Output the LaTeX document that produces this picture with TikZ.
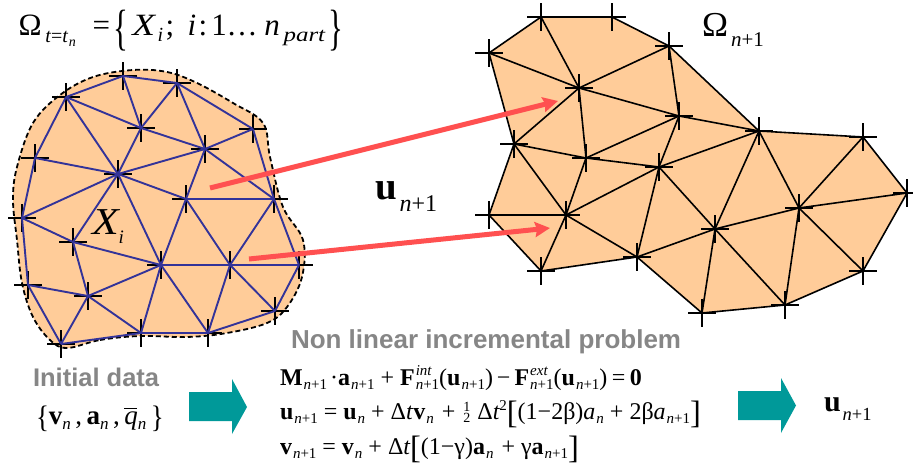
\documentclass[tikz,border=0pt]{standalone}
\usepackage{fontspec}
\usepackage{graphicx}
\setmainfont{Liberation Serif}
\newfontfamily\hvf{Liberation Sans}
\usetikzlibrary{arrows.meta,shapes.misc}
\newcommand{\fz}[1]{\fontsize{#1}{#1}\selectfont}
% subscript: drop, size, text
\newcommand{\sbx}[3]{\raisebox{-#1pt}{\fz{#2}#3}}
\newcommand{\nplus}{{\itshape n}+1}
\newcommand{\bg}[2]{\raisebox{#2pt}{\scalebox{1}[#1]{\{}}}
\newcommand{\bd}[2]{\raisebox{#2pt}{\scalebox{1}[#1]{\}}}}
\newcommand{\eqn}{\hspace{1pt}\sbx{4.5}{15}{\nplus}}
\newcommand{\en}{\hspace{1pt}\sbx{4.5}{15}{\itshape n}}
\newcommand{\lbk}{\raisebox{-4pt}{\scalebox{1.35}[1.35]{[}}}
\newcommand{\rbk}{\raisebox{-4pt}{\scalebox{1.35}[1.35]{]}}}
\newcommand{\atx}[2]{\rlap{\hspace{#1pt}#2}}
\tikzset{
  meshpt/.style={cross out,draw=black,line width=2.1pt,minimum size=17.5pt,inner sep=0pt,rotate=45},
  blueedge/.style={draw=meshblue,line width=1.9pt,line join=round},
  blackedge/.style={draw=black,line width=1.6pt,line join=round},
  redarrow/.style={draw=arrowred,line width=5pt,-{Stealth[length=15pt,width=15pt,inset=2pt]}},
  teal/.style={fill=blocktl,draw=none},
  txt/.style={anchor=base west,inner sep=0pt,outer sep=0pt},
  grey/.style={txt,text=labelgrey,font=\hvf\bfseries}
}
\definecolor{meshfill}{HTML}{FFCC99}
\definecolor{meshblue}{HTML}{333399}
\definecolor{arrowred}{HTML}{FF5050}
\definecolor{blocktl}{HTML}{009999}
\definecolor{labelgrey}{HTML}{868686}
\begin{document}
\begin{tikzpicture}[x=1pt,y=-1pt]
\useasboundingbox (0,0) rectangle (913,468);
% ---- left domain
\draw[fill=meshfill,line width=1.8pt,dash pattern=on 5pt off 3pt]
  plot[smooth cycle,tension=0.6] coordinates {
  (67,348)(100,340)(140,336)(187,337)(227,333)(267,323)(287,307)(302,277)(303,240)
  (283,207)(270,157)(263,123)(233,103)(197,83)(167,72)(133,70)(93,77)(60,95)(33,123)
  (17,167)(13,200)(17,240)(22,283)(33,317)(50,340)};
\foreach \n/\x/\y in {A/123/76,B/177/83,C/66/97,D/141/128,E/253/129,F/205/149,G/35/158,H/118/174,
  I/186/199,J/274/199,K/22/218,L/73/242,M/161/265,N/230/265,O/299/265,P/28/285,Q/88/296,R/275/311,
  S/141/333,T/208/333,U/61/344}
  {\node[meshpt] (\n) at (\x,\y) {};}
\foreach \a/\b in {A/B,A/C,A/D,B/D,B/E,B/F,C/D,C/G,C/H,D/F,D/H,E/F,E/J,F/H,F/I,F/J,G/H,G/K,H/I,H/K,H/L,H/M,
  I/J,I/M,I/N,J/N,J/O,K/L,K/P,L/M,L/Q,M/N,M/Q,M/S,M/T,N/O,N/T,N/R,O/R,P/Q,P/U,Q/U,Q/S,S/T,S/U,T/R}
  {\draw[blueedge] (\a.center) -- (\b.center);}
% ---- right domain
\foreach \n/\x/\y in {a/541/17,b/612/17,c/489/53,d/669/46,e/579/88,f/679/116,g/759/131,h/863/137,
  i/514/144,j/586/158,k/659/167,l/907/193,m/799/208,n/489/215,o/566/215,p/715/229,q/637/257,
  r/541/271,s/863/271,t/785/305,u/702/313}
  {\coordinate (\n) at (\x,\y);}
\fill[meshfill] (a)--(b)--(d)--(g)--(h)--(l)--(s)--(t)--(u)--(q)--(r)--(n)--(i)--(c)--cycle;
\foreach \a/\b in {a/b,a/c,a/e,b/d,c/e,c/i,d/e,d/f,d/g,e/f,e/i,e/j,f/g,f/j,f/k,g/h,g/k,g/m,g/p,h/m,h/l,
  i/j,i/n,i/o,j/k,j/o,k/o,k/p,k/q,l/m,l/s,m/p,m/s,m/t,n/o,n/r,o/q,o/r,p/q,p/t,p/u,q/r,q/u,t/u,t/s}
  {\draw[blackedge] (\a) -- (\b);}
\foreach \n in {a,b,c,d,e,f,g,h,i,j,k,l,m,n,o,p,q,r,s,t,u}
  {\node[meshpt] (\n c) at (\n) {};}
% ---- red arrows
\coordinate (r1s) at (210,188); \coordinate (r1e) at (558,101);
\coordinate (r2s) at (249,259); \coordinate (r2e) at (550,228);
\draw[redarrow] (r1s) -- (r1e);
\draw[redarrow] (r2s) -- (r2e);
% ---- block arrows
\fill[teal] (189,392)--(232,392)--(232,379)--(247,407)--(232,434)--(232,421)--(189,421)--cycle;
\fill[teal] (738,391)--(781,391)--(781,378)--(796,405.5)--(781,433)--(781,420)--(738,420)--cycle;
% ---- labels
\node[txt,font=\fz{31}] (om1) at (18,36) {\atx{0}{Ω}\atx{27}{\sbx{7}{20}{{\itshape t}={\itshape t}\hspace{1pt}\sbx{4}{14}{\itshape n}}}\atx{74}{=}\atx{95}{\bg{1.6}{-9}}\atx{114}{\scalebox{1.2}[1]{\itshape X}}\atx{139}{\sbx{6}{20}{\itshape i}}\atx{147}{;}\atx{169}{\itshape i}\atx{180}{:}\atx{193}{1}\atx{208}{…}\atx{246}{\itshape n}\atx{265}{\sbx{6}{20}{\scalebox{1.25}[1]{\itshape part}}}\atx{310}{\bd{1.6}{-9}}\hspace{325pt}};
\node[txt,font=\fz{38}\itshape] (xi) at (92,234) {\scalebox{1.15}[1]{X}\sbx{9}{19}{i}};
\node[txt,font=\fz{35}] (om2) at (702,37) {Ω\hspace{3pt}\sbx{10}{21}{\nplus}};
\node[txt,font=\fz{39}\bfseries] (u1) at (375,200) {u\hspace{3pt}\sbx{11}{24}{\mdseries\nplus}};
\node[txt,font=\fz{30}\bfseries] (u2) at (824,411) {u\hspace{2pt}\sbx{9}{18.5}{\mdseries\nplus}};
\node[grey,font=\hvf\bfseries\fz{26}] (nl) at (291,348) {Non linear incremental problem};
\node[grey,font=\hvf\bfseries\fz{25.5}] (id) at (33,386) {Initial data};
\node[txt,font=\fz{27}] (data) at (36,424) {\bg{1.15}{-3}\textbf{v}\sbx{5}{17}{\itshape n}\,,\,\textbf{a}\sbx{5}{17}{\itshape n}\,,\,\rlap{\raisebox{15.5pt}{\rule{13pt}{1pt}}}{\itshape q}\sbx{5}{17}{\itshape n}\,\bd{1.15}{-3}};
\node[txt,font=\fz{24}] (e1) at (280,385) {\textbf{M}\eqn{}\hspace{3pt}·\textbf{a}\eqn{} + \textbf{F}\rlap{\hspace{1pt}\raisebox{10pt}{\fz{15}\itshape int}}\eqn{}(\textbf{u}\eqn{})\hspace{4pt}−\hspace{4pt}\textbf{F}\rlap{\hspace{1pt}\raisebox{10pt}{\fz{15}\itshape ext}}\eqn{}(\textbf{u}\eqn{})\hspace{4.5pt}=\hspace{4.5pt}\textbf{0}};
\node[txt,font=\fz{24}] (e2) at (280,419) {\textbf{u}\eqn{} = \textbf{u}\en{} + Δ{\itshape t}\textbf{v}\en{}\hspace{2pt} +\hspace{2pt} \raisebox{-3pt}{\fz{14}\shortstack{1\\[-2pt]2}}\hspace{1pt} Δ{\itshape t}\raisebox{9pt}{\fz{15}2}\lbk{}(1−2β){\itshape a}\en{} + 2β{\itshape a}\eqn{}\rbk{}};
\node[txt,font=\fz{24}] (e3) at (280,454) {\textbf{v}\eqn{} = \textbf{v}\en{} + Δ{\itshape t}\lbk{}(1−γ)\textbf{a}\en{}\hspace{2pt} + γ\textbf{a}\eqn{}\rbk{}};
\end{tikzpicture}
\end{document}
